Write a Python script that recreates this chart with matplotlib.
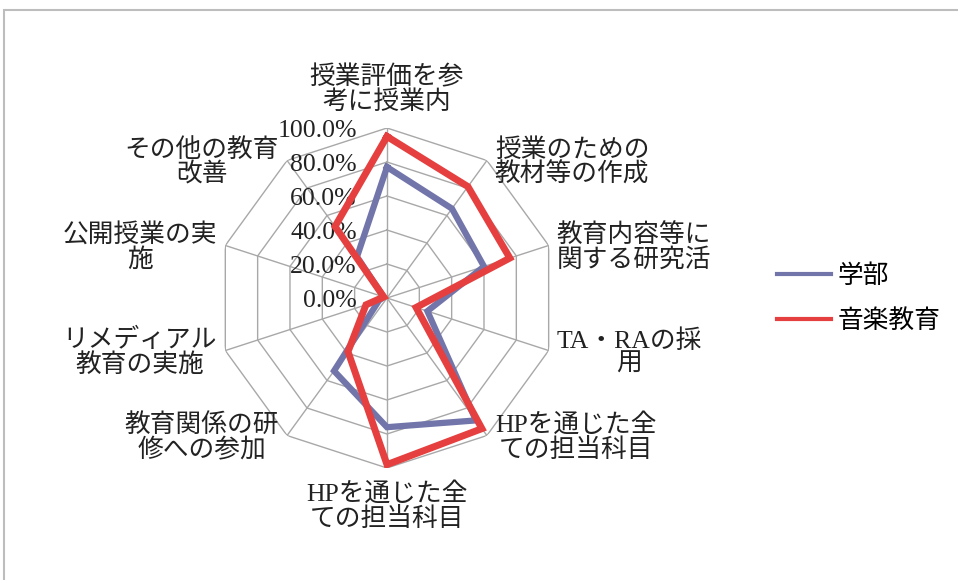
import numpy as np
import matplotlib
matplotlib.use("Agg")
import matplotlib.pyplot as plt
from matplotlib.patches import Rectangle
from matplotlib.transforms import offset_copy


OUTPUT = "out.png"

plt.rcParams["font.family"] = ["Liberation Serif", "Noto Sans CJK JP", "DejaVu Sans"]

CATEGORIES = [
    "授業評価を参\n考に授業内",
    "授業のための\n教材等の作成",
    "教育内容等に\n関する研究活",
    "TA・RAの採\n用",
    "HPを通じた全\nての担当科目",
    "HPを通じた全\nての担当科目",
    "教育関係の研\n修への参加",
    "リメディアル\n教育の実施",
    "公開授業の実\n施",
    "その他の教育\n改善",
]

SERIES_NAMES = ["学部", "音楽教育"]
GAKUBU = [0.77, 0.65, 0.60, 0.25, 0.89, 0.76, 0.53, 0.05, 0.02, 0.30]
ONGAKU = [0.95, 0.81, 0.76, 0.18, 0.95, 0.98, 0.39, 0.13, 0.02, 0.52]

RING_LEVELS = [0.0, 0.2, 0.4, 0.6, 0.8, 1.0]
RING_LABELS = ["0.0%", "20.0%", "40.0%", "60.0%", "80.0%", "100.0%"]

BLUE = "#7275AA"
RED = "#E5403F"
GRID = "#A8A8A8"
FONT_SIZE = 18.5


def draw_grid(ax, angles):
    closed = np.append(angles, angles[0])
    for level in RING_LEVELS[1:]:
        ax.plot(closed, [level] * len(closed), color=GRID, linewidth=1.0, zorder=1)
    for a in angles:
        ax.plot([a, a], [0, 1], color=GRID, linewidth=1.0, zorder=1)


def draw_labels(fig, ax, angles):
    # percentage labels sit left of the vertical spoke
    trans = offset_copy(ax.transData, fig=fig, x=-30, y=-3, units="dots")
    for level, text in zip(RING_LEVELS, RING_LABELS):
        ax.text(0, level, text, transform=trans, ha="right", va="center",
                fontsize=FONT_SIZE, color="#222222", zorder=2)

    for a, text in zip(angles, CATEGORIES):
        sx, sy = np.sin(a), np.cos(a)
        if abs(sx) < 1e-6:
            ha = "center"
            va = "bottom" if sy > 0 else "top"
            dx, dy = 0, 14 * np.sign(sy)
        else:
            ha = "left" if sx > 0 else "right"
            va = "center"
            dx, dy = 8 * np.sign(sx), -2
        trans = offset_copy(ax.transData, fig=fig, x=dx, y=dy, units="dots")
        ax.text(a, 1.0, text, transform=trans, ha=ha, va=va,
                multialignment="center", linespacing=1.05,
                fontsize=FONT_SIZE, color="#222222")


def main():
    fig = plt.figure(figsize=(9.58, 5.8), dpi=100)
    fig.patches.append(Rectangle((4 / 958, -0.05), 1.1, 1.05 - 10 / 580,
                                 transform=fig.transFigure, fill=False,
                                 edgecolor="#BDBDBD", linewidth=1.5))

    ax = fig.add_axes([0.2265, 0.1931, 0.3549, 0.5862], projection="polar")
    ax.set_theta_zero_location("N")
    ax.set_theta_direction(-1)
    ax.set_ylim(0, 1)
    ax.grid(False)
    ax.spines["polar"].set_visible(False)
    ax.set_xticks([])
    ax.set_yticks([])
    ax.patch.set_alpha(0)

    angles = np.linspace(0, 2 * np.pi, len(CATEGORIES), endpoint=False)
    closed = np.append(angles, angles[0])

    draw_grid(ax, angles)

    ax.plot(closed, GAKUBU + GAKUBU[:1], color=BLUE, linewidth=4.5,
            solid_joinstyle="miter", label=SERIES_NAMES[0], zorder=3)
    ax.plot(closed, ONGAKU + ONGAKU[:1], color=RED, linewidth=5,
            solid_joinstyle="miter", label=SERIES_NAMES[1], zorder=4)

    draw_labels(fig, ax, angles)

    leg = fig.legend(loc="center left", bbox_to_anchor=(777 / 958, 0.485),
                     frameon=False, fontsize=FONT_SIZE, handlelength=2.1,
                     handletextpad=0.25, labelspacing=0.85, borderpad=0,
                     borderaxespad=0)
    for line in leg.get_lines():
        line.set_linewidth(3)

    fig.savefig(OUTPUT, dpi=100)
    plt.close(fig)


if __name__ == "__main__":
    main()
